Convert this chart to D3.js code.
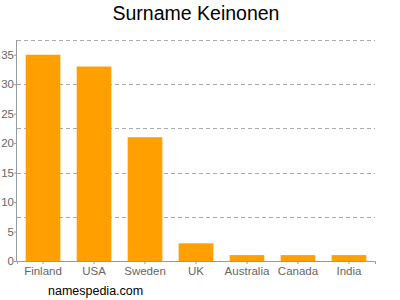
<!DOCTYPE html>
<html lang="en">
	<head>
		<meta charset="utf-8">
		<title>Surname Keinonen</title>
		<script src="https://d3js.org/d3.v7.min.js"></script>
		<style type="text/css">
			body { margin: 0; background: #fff; }
		</style>
	</head>
	<body>
		<script type="text/javascript">
			var countries = ["Finland", "USA", "Sweden", "UK", "Australia", "Canada", "India"];
			var counts = [35, 33, 21, 3, 1, 1, 1];
			var yTicks = [0, 5, 10, 15, 20, 25, 30, 35];
			var gridValues = [7.5, 15, 22.5, 30, 37.5];

			var width = 400;
			var height = 300;
			var margin = { top: 40, right: 25, bottom: 39, left: 17 };
			var w = width - margin.left - margin.right;
			var h = height - margin.top - margin.bottom;

			var svg = d3.select("body")
				.append("svg")
				.attr("width", width)
				.attr("height", height);

			svg.append("text")
				.attr("x", 196)
				.attr("y", 20)
				.attr("text-anchor", "middle")
				.attr("font-family", "Liberation Sans, Arial, sans-serif")
				.attr("font-size", "19.5px")
				.attr("fill", "#000")
				.text("Surname Keinonen");

			var g = svg.append("g")
				.attr("transform", "translate(" + margin.left + "," + margin.top + ")");

			var x = d3.scaleBand()
				.domain(countries)
				.range([0, w])
				.paddingInner(0.32)
				.paddingOuter(0.17);

			var y = d3.scaleLinear()
				.domain([0, 37.5])
				.range([h, 0]);

			//dashed grid
			g.selectAll("line.grid")
				.data(gridValues)
				.enter()
				.append("line")
				.attr("class", "grid")
				.attr("x1", 0)
				.attr("x2", w)
				.attr("y1", function(d) { return Math.round(y(d)) + 0.5; })
				.attr("y2", function(d) { return Math.round(y(d)) + 0.5; })
				.attr("stroke", "#aaa")
				.attr("stroke-dasharray", "4,3");

			g.selectAll("rect")
				.data(counts)
				.enter()
				.append("rect")
				.attr("x", function(d, i) { return x(countries[i]); })
				.attr("y", function(d) { return y(d); })
				.attr("width", x.bandwidth())
				.attr("height", function(d) { return h - y(d); })
				.attr("fill", "#ffa000");

			var leftAxis = d3.axisLeft(y)
				.tickValues(yTicks)
				.tickSize(3)
				.tickPadding(0);

			var bottomAxis = d3.axisBottom(x)
				.tickSize(3)
				.tickPadding(3);

			var ya = g.append("g").call(leftAxis);
			var xa = g.append("g")
				.attr("transform", "translate(0," + h + ")")
				.call(bottomAxis);

			[ya, xa].forEach(function(a) {
				a.selectAll("path").attr("stroke", "#999");
				a.selectAll("line").attr("stroke", "#999");
				a.selectAll("text")
					.attr("fill", "#666")
					.attr("font-family", "Liberation Sans, Arial, sans-serif")
					.attr("font-size", "11.5px");
			});
			ya.select("path").attr("d", "M-0.5," + h + "V0");

			svg.append("text")
				.attr("x", 48)
				.attr("y", 295)
				.attr("font-family", "Liberation Sans, Arial, sans-serif")
				.attr("font-size", "12.5px")
				.attr("fill", "#000")
				.text("namespedia.com");
		</script>
	</body>
</html>
